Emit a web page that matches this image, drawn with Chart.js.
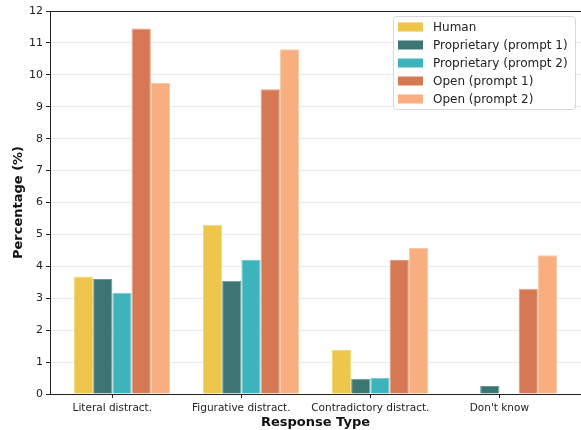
<!DOCTYPE html>
<html>
<head>
<meta charset="utf-8">
<script src="https://cdn.jsdelivr.net/npm/chart.js@4/dist/chart.umd.min.js"></script>
<style>
  html, body { margin: 0; padding: 0; background: #fff; }
  #wrap { width: 581px; height: 430px; }
</style>
</head>
<body>
<div id="wrap"><canvas id="chart"></canvas></div>
<script>
const categories = ["Literal distract.", "Figurative distract.", "Contradictory distract.", "Don't know"];
const seriesNames = ["Human", "Proprietary (prompt 1)", "Proprietary (prompt 2)", "Open (prompt 1)", "Open (prompt 2)"];
const human = [3.68, 5.3, 1.38, 0];
const proprietary1 = [3.6, 3.55, 0.48, 0.25];
const proprietary2 = [3.17, 4.2, 0.5, 0];
const open1 = [11.45, 9.55, 4.2, 3.3];
const open2 = [9.75, 10.8, 4.58, 4.35];
const yTicks = [0, 1, 2, 3, 4, 5, 6, 7, 8, 9, 10, 11, 12];

const colors = ["#edc64b", "#3b7574", "#3db4bc", "#d57853", "#f8ae7e"];
const edges = ["#f3d77f", "#6f9796", "#7ccbd1", "#e29c80", "#fbc7a5"];
const allSeries = [human, proprietary1, proprietary2, open1, open2];

const font = "'DejaVu Sans', sans-serif";

// legend drawn inside the plot, upper right, plus the frame bits Chart.js does not draw
const boxLegend = {
  id: "boxLegend",
  afterDraw(chart) {
    const ctx = chart.ctx;
    const x0 = 393, y0 = 16, w = 182, h = 93;
    ctx.save();
    ctx.beginPath();
    ctx.roundRect(x0 + 0.5, y0 + 0.5, w, h, 3);
    ctx.fillStyle = "rgba(255,255,255,0.85)";
    ctx.fill();
    ctx.strokeStyle = "#d6d6d6";
    ctx.lineWidth = 1;
    ctx.stroke();
    ctx.font = "12px " + font;
    ctx.textBaseline = "middle";
    seriesNames.forEach((name, i) => {
      const cy = y0 + 11 + i * 18;
      ctx.fillStyle = colors[i];
      ctx.fillRect(x0 + 5, cy - 4.5, 25, 9);
      ctx.fillStyle = "#222";
      ctx.fillText(name, x0 + 40, cy + 0.5);
    });
    const a = chart.chartArea;
    ctx.fillStyle = "#222";
    // top spine (right one falls just outside the picture)
    ctx.fillRect(a.left, a.top, a.right - a.left + 2, 1);
    // x tick marks under the category labels
    const xs = chart.scales.x;
    categories.forEach((c, i) => {
      const px = Math.round(xs.getPixelForValue(i - 0.075));
      ctx.fillRect(px, a.bottom, 1, 4);
    });
    ctx.restore();
  }
};

new Chart(document.getElementById("chart"), {
  type: "bar",
  data: {
    datasets: allSeries.map((vals, k) => ({
      label: seriesNames[k],
      data: vals.map((v, i) => ({ x: i, y: v })),
      backgroundColor: colors[k],
      borderColor: edges[k],
      borderWidth: { left: 1, right: 1, top: 1, bottom: 0 },
      categoryPercentage: 0.745,
      barPercentage: 1,
    })),
  },
  plugins: [boxLegend],
  options: {
    responsive: true,
    maintainAspectRatio: false,
    animation: false,
    layout: { padding: { top: 11, right: -2, left: 11, bottom: 0 } },
    plugins: { legend: { display: false }, tooltip: { enabled: false } },
    scales: {
      x: {
        type: "linear",
        min: -0.558,
        max: 3.558,
        offset: false,
        afterBuildTicks: (scale) => {
          scale.ticks = categories.map((c, i) => ({ value: i - 0.075 }));
        },
        afterFit: (scale) => { scale.height = 36; },
        ticks: {
          callback: (v, idx) => categories[idx],
          autoSkip: false,
          maxRotation: 0,
          padding: 0,
          color: "#222",
          font: { family: font, size: 10.5 },
        },
        grid: { display: false },
        border: { color: "#222", width: 1 },
        title: {
          display: true,
          text: "Response Type",
          color: "#111",
          font: { family: font, size: 13, weight: "bold" },
          padding: { top: 0, bottom: 0 },
        },
      },
      y: {
        min: 0,
        max: 12,
        afterBuildTicks: (scale) => {
          scale.ticks = yTicks.map((v) => ({ value: v }));
        },
        afterFit: (scale) => { scale.width = 39; },
        ticks: {
          padding: 3,
          color: "#222",
          font: { family: font, size: 11 },
        },
        grid: { color: "#ebebeb", drawTicks: true, tickLength: 4, tickColor: "#222" },
        border: { color: "#222", width: 1 },
        title: {
          display: true,
          text: "Percentage (%)",
          color: "#111",
          font: { family: font, size: 13, weight: "bold" },
          padding: { top: 0, bottom: 2 },
        },
      },
    },
  },
});
</script>
</body>
</html>
